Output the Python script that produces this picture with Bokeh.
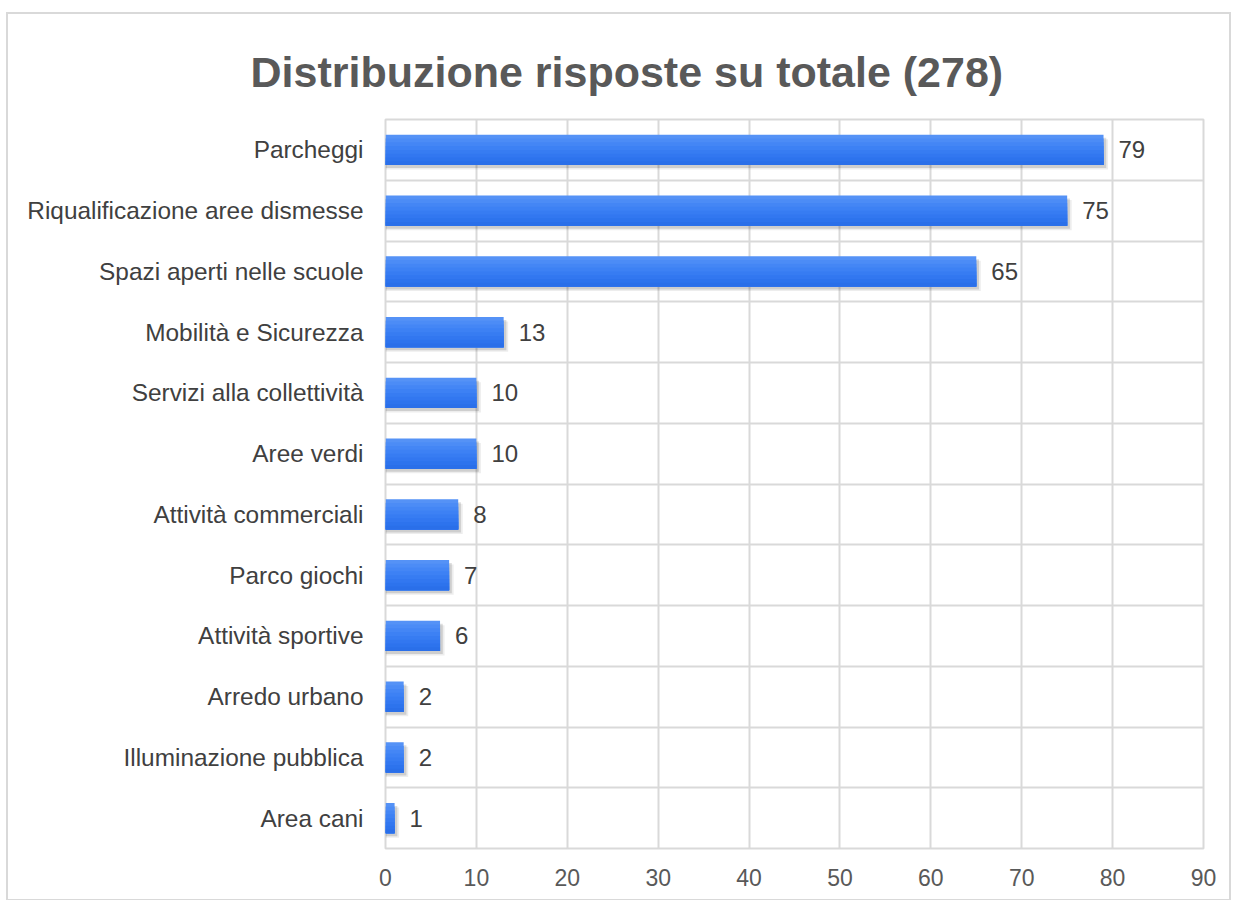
from bokeh.plotting import figure
from bokeh.models import Range1d, FixedTicker, ColumnDataSource
from bokeh.transform import dodge
from bokeh.core.properties import value
from bokeh.embed import file_html
from bokeh.resources import INLINE

title = "Distribuzione risposte su totale (278)"
categories = ["Parcheggi", "Riqualificazione aree dismesse", "Spazi aperti nelle scuole",
              "Mobilità e Sicurezza", "Servizi alla collettività", "Aree verdi",
              "Attività commerciali", "Parco giochi", "Attività sportive",
              "Arredo urbano", "Illuminazione pubblica", "Area cani"]
values = [79, 75, 65, 13, 10, 10, 8, 7, 6, 2, 2, 1]
x_ticks = [0, 10, 20, 30, 40, 50, 60, 70, 80, 90]

n = len(categories)
ypos = [n - 0.5 - i for i in range(n)]
src = ColumnDataSource(dict(cat=categories, v=values, y=ypos, lbl=[str(v) for v in values]))

W, H = 1225, 889
p = figure(width=W, height=H, x_range=Range1d(0, 90), y_range=Range1d(0, n),
           output_backend="svg", toolbar_location=None, title=title,
           min_border_left=377, min_border_right=30, min_border_top=105, min_border_bottom=55)
p.margin = (12, 0, 0, 6)
p.styles = {"border": "2px solid #d9d9d9"}
p.background_fill_color = "white"
p.border_fill_color = "white"
p.outline_line_color = "#d9d9d9"
p.outline_line_width = 2

p.title.align = "left"
p.title.offset = -135
p.title.standoff = 48
p.title.text_font = "Liberation Sans"
p.title.text_font_style = "bold"
p.title.text_font_size = "43px"
p.title.text_color = "#595959"

# grids
p.xgrid.ticker = FixedTicker(ticks=x_ticks)
p.ygrid.ticker = FixedTicker(ticks=list(range(n + 1)))
for g in (p.xgrid[0], p.ygrid[0]):
    g.grid_line_color = "#d9d9d9"
    g.grid_line_width = 2

# axes
xa = p.xaxis[0]
xa.ticker = FixedTicker(ticks=x_ticks)
xa.axis_line_color = None
xa.major_tick_line_color = None
xa.minor_tick_line_color = None
xa.major_label_text_font = "Liberation Sans"
xa.major_label_text_font_size = "23px"
xa.major_label_text_color = "#595959"
xa.major_label_standoff = 14

ya = p.yaxis[0]
ya.ticker = FixedTicker(ticks=ypos)
ya.major_label_overrides = {y: c for y, c in zip(ypos, categories)}
ya.axis_line_color = None
ya.major_tick_line_color = None
ya.minor_tick_line_color = None
ya.major_label_text_font = "Liberation Sans"
ya.major_label_text_font_size = "24.4px"
ya.major_label_text_color = "#404040"
ya.major_label_standoff = 16

# shadows
p.hbar(y=dodge("y", -0.075, range=p.y_range), left=0, right=dodge("v", 0.5, range=p.x_range),
       height=0.5, source=src, fill_color="#000000", fill_alpha=0.07, line_color=None)
p.hbar(y=dodge("y", -0.05, range=p.y_range), left=0, right=dodge("v", 0.3, range=p.x_range),
       height=0.5, source=src, fill_color="#000000", fill_alpha=0.13, line_color=None)

# gradient bars (top light -> bottom darker), each strip runs to the bar bottom
grad = ["#5592f6", "#4c8cf6", "#4486f5", "#3d81f4", "#377cf2", "#3277f0", "#2d73ed", "#2a6fe9"]
N = len(grad)
h = 0.5 / N
for i, col in enumerate(grad):
    p.hbar(y=dodge("y", -i * h / 2, range=p.y_range), left=0, right="v", height=0.5 - i * h,
           source=src, fill_color=col, line_color=None)

# value labels
p.text(x="v", y="y", text="lbl", source=src, x_offset=15, text_baseline="middle",
       text_align="left", text_font=value("Liberation Sans"), text_font_size="24px",
       text_color="#404040")

open("out.html", "w").write(file_html(p, INLINE))
